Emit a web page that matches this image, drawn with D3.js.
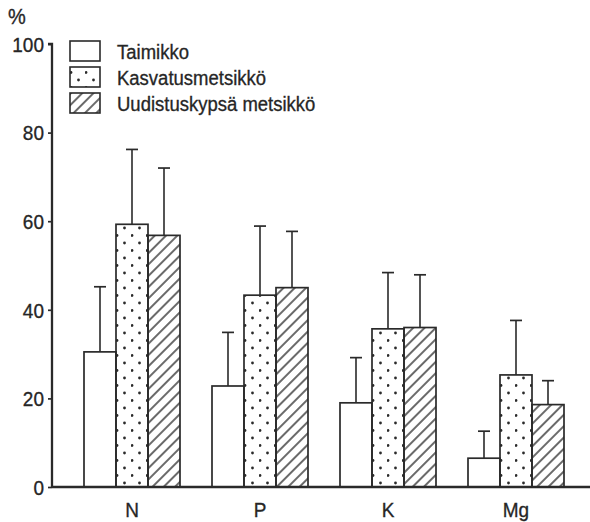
<!DOCTYPE html>
<html>
<head>
<meta charset="utf-8">
<script src="https://cdn.jsdelivr.net/npm/d3@7"></script>
<style>
  html, body { margin: 0; padding: 0; background: #fff; }
  svg { display: block; }
  text { font-family: "Liberation Sans", Arial, Helvetica, sans-serif; fill: #262626; stroke: #262626; stroke-width: 0.3px; }
</style>
</head>
<body>
<script>
const categories = ["N", "P", "K", "Mg"];
const seriesNames = ["Taimikko", "Kasvatusmetsikkö", "Uudistuskypsä metsikkö"];
const seriesKeys = ["taimikko", "kasvatus", "uudistus"];
const means = {
  taimikko: [30.5, 22.8, 19.0, 6.5],
  kasvatus: [59.3, 43.3, 35.7, 25.3],
  uudistus: [56.8, 45.0, 36.0, 18.6]
};
const upperErr = {
  taimikko: [45.2, 34.9, 29.2, 12.6],
  kasvatus: [76.2, 58.9, 48.4, 37.6],
  uudistus: [72.0, 57.7, 47.9, 24.0]
};
const yTicks = [0, 20, 40, 60, 80, 100];

const W = 590, H = 522;
const ink = "#2a2a2a";
const sy = 1.1; // vertical stretch of scanned glyphs
const svg = d3.select("body").append("svg").attr("width", W).attr("height", H);
const defs = svg.append("defs");

const y = d3.scaleLinear().domain([0, 100]).range([487, 44]);
const x = d3.scaleBand().domain(categories).range([68, 580]).paddingInner(0.25).paddingOuter(0.125);
const xs = d3.scaleBand().domain(seriesKeys).range([0, x.bandwidth()]);

// hatch pattern
const hatch = defs.append("pattern").attr("id", "hatch")
  .attr("patternUnits", "userSpaceOnUse").attr("width", 8).attr("height", 8)
  .attr("patternTransform", "rotate(45)");
hatch.append("line").attr("x1", 4).attr("y1", 0).attr("x2", 4).attr("y2", 8)
  .attr("stroke", ink).attr("stroke-width", 1.4);

function dotPattern(id, x0, y0) {
  const p = defs.append("pattern").attr("id", id)
    .attr("patternUnits", "userSpaceOnUse").attr("x", x0).attr("y", y0)
    .attr("width", 15).attr("height", 15);
  p.append("circle").attr("cx", 8.5).attr("cy", 3).attr("r", 1.4).attr("fill", ink);
  p.append("circle").attr("cx", 1).attr("cy", 10.5).attr("r", 1.4).attr("fill", ink);
  return "url(#" + id + ")";
}

function fillFor(key, i, bx) {
  if (key === "taimikko") return "#fff";
  if (key === "kasvatus") return dotPattern("dots" + i, bx, 0);
  return "url(#hatch)";
}

function stretch(sel) {
  sel.each(function () {
    const t = d3.select(this);
    const tx = +t.attr("x") || 0, ty = +t.attr("y") || 0;
    const prev = t.attr("transform") || "";
    t.attr("x", 0).attr("y", 0)
      .attr("transform", prev + " translate(" + tx + "," + ty + ") scale(1," + sy + ")");
  });
}

// bars
const data = [];
categories.forEach((c, ci) => {
  seriesKeys.forEach((k) => {
    data.push({ cat: c, key: k, v: means[k][ci], e: upperErr[k][ci] });
  });
});

const g = svg.append("g");
data.forEach((d) => {
  const cx = x(d.cat) + xs(d.key) + xs.bandwidth() / 2;
  g.append("line").attr("x1", cx).attr("x2", cx).attr("y1", y(d.v)).attr("y2", y(d.e))
    .attr("stroke", ink).attr("stroke-width", 1.6);
  g.append("line").attr("x1", cx - 6).attr("x2", cx + 6).attr("y1", y(d.e)).attr("y2", y(d.e))
    .attr("stroke", ink).attr("stroke-width", 1.7);
});
data.forEach((d, i) => {
  const bx = x(d.cat) + xs(d.key);
  g.append("rect").attr("x", bx).attr("y", y(d.v))
    .attr("width", xs.bandwidth()).attr("height", y(0) - y(d.v))
    .attr("fill", fillFor(d.key, i, bx)).attr("stroke", ink).attr("stroke-width", 1.7);
});

// y axis
const yAxis = svg.append("g").attr("transform", "translate(52,0)")
  .call(d3.axisLeft(y).tickValues(yTicks).tickSize(4).tickPadding(4));
yAxis.select(".domain").attr("stroke", ink).attr("stroke-width", 2.3).attr("d", "M-4," + y(100) + "H0V" + y(0));
yAxis.selectAll(".tick line").attr("stroke", ink).attr("stroke-width", 1.7);
yAxis.selectAll(".tick text").attr("font-size", 19).attr("fill", "#262626").attr("dy", null)
  .attr("dominant-baseline", "central");
stretch(yAxis.selectAll(".tick text"));

// x axis
const xAxis = svg.append("g").attr("transform", "translate(0," + y(0) + ")")
  .call(d3.axisBottom(x).tickSize(0).tickPadding(15));
xAxis.select(".domain").attr("stroke", ink).attr("stroke-width", 2.3).attr("d", "M52,0H590");
xAxis.selectAll(".tick text").attr("font-size", 19).attr("fill", "#262626");
stretch(xAxis.selectAll(".tick text"));

// % label
stretch(svg.append("text").attr("x", 8).attr("y", 24).attr("font-size", 20).text("%"));

// legend
const lg = svg.append("g");
seriesKeys.forEach((k, i) => {
  const ly = 41 + i * 26;
  const fill = k === "taimikko" ? "#fff" : (k === "kasvatus" ? dotPattern("ldots", 70, ly - 5) : "url(#hatch)");
  lg.append("rect").attr("x", 70).attr("y", ly).attr("width", 30).attr("height", 20)
    .attr("fill", fill).attr("stroke", ink).attr("stroke-width", 1.6);
  stretch(lg.append("text").attr("x", 117).attr("y", ly + 18).attr("font-size", 18.5).text(seriesNames[i]));
});
</script>
</body>
</html>
